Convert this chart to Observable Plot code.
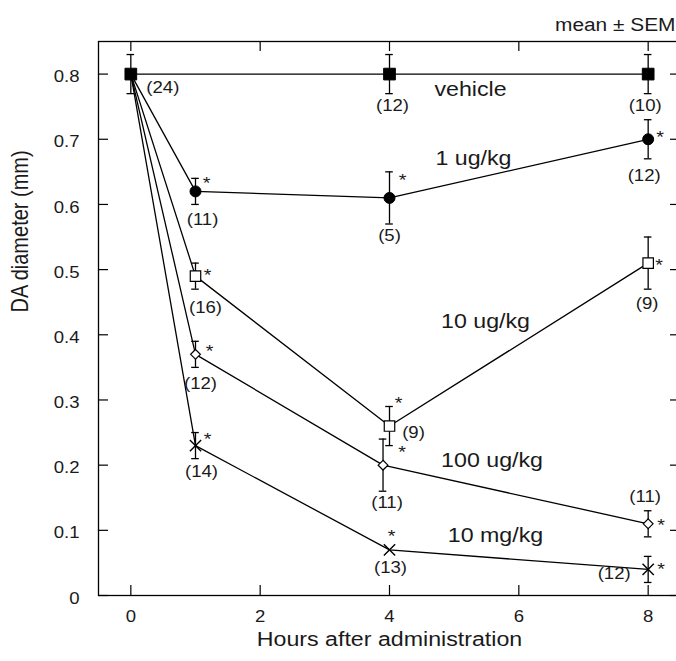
<!DOCTYPE html>
<html>
<head>
<meta charset="utf-8">
<script src="https://cdn.jsdelivr.net/npm/d3@7"></script>
<script src="https://cdn.jsdelivr.net/npm/@observablehq/plot@0.6"></script>
<style>
  html, body { margin: 0; padding: 0; background: white; }
  #wrap { width: 676px; height: 661px; overflow: hidden; }
</style>
</head>
<body>
<div id="wrap"></div>
<script>
// ---------- data ----------
const seriesNames = ["vehicle", "1 ug/kg", "10 ug/kg", "100 ug/kg", "10 mg/kg"];

const hoursVehicle = [0, 4, 8];
const meanVehicle  = [0.80, 0.80, 0.80];
const semVehicle   = [0.03, 0.03, 0.03];
const nVehicle     = [24, 12, 10];
const starVehicle  = [false, false, false];

const hours1ug = [0, 1, 4, 8];
const mean1ug  = [0.80, 0.62, 0.61, 0.70];
const sem1ug   = [null, 0.02, 0.04, 0.03];
const n1ug     = [null, 11, 5, 12];
const star1ug  = [false, true, true, true];

const hours10ug = [0, 1, 4, 8];
const mean10ug  = [0.80, 0.49, 0.26, 0.51];
const sem10ug   = [null, 0.02, 0.03, 0.04];
const n10ug     = [null, 16, 9, 9];
const star10ug  = [false, true, true, true];

const hours100ug = [0, 1, 3.9, 8];
const mean100ug  = [0.80, 0.37, 0.20, 0.11];
const sem100ug   = [null, 0.02, 0.04, 0.02];
const n100ug     = [null, 12, 11, 11];
const star100ug  = [false, true, true, true];

const hours10mg = [0, 1, 4, 8];
const mean10mg  = [0.80, 0.23, 0.07, 0.04];
const sem10mg   = [null, 0.02, null, 0.02];
const n10mg     = [null, 14, 13, 12];
const star10mg  = [false, true, true, true];

const xTicks = [0, 2, 4, 6, 8];
const yTicks = [0, 0.1, 0.2, 0.3, 0.4, 0.5, 0.6, 0.7, 0.8];
const xTitle = "Hours after administration";
const yTitle = "DA diameter (mm)";
const noteText = "mean \u00B1 SEM";

// ---------- table built from the arrays ----------
const seriesCols = [
  [hoursVehicle, meanVehicle, semVehicle, nVehicle, starVehicle],
  [hours1ug, mean1ug, sem1ug, n1ug, star1ug],
  [hours10ug, mean10ug, sem10ug, n10ug, star10ug],
  [hours100ug, mean100ug, sem100ug, n100ug, star100ug],
  [hours10mg, mean10mg, sem10mg, n10mg, star10mg]
];
const rows = [];
seriesCols.forEach(([h, m, s, n, st], si) => {
  h.forEach((hh, i) => rows.push({series: seriesNames[si], si, i, hour: hh, mean: m[i], sem: s[i], n: n[i], star: st[i]}));
});

// ---------- styles (kept apart from data) ----------
const FONT = "'Liberation Sans', Arial, Helvetica, sans-serif";
const INK = "#1a1a1a";
const markerStyle = [
  {symbol: "square",   r: 6.6, fill: "black", stroke: "black", strokeWidth: 1},
  {symbol: "circle",   r: 5.5, fill: "black", stroke: "black", strokeWidth: 1},
  {symbol: "square",   r: 5.9, fill: "white", stroke: "black", strokeWidth: 1.2},
  {symbol: "diamond2", r: 4.4, fill: "white", stroke: "black", strokeWidth: 1.2},
  {symbol: "times",    r: 5.2, fill: "none",  stroke: "black", strokeWidth: 1.4}
];
// pixel offsets of the (n) labels and stars from their point
const nOffsets = [
  [[32, 14], [3, 32], [-3, 32]],
  [null, [7, 28], [0, 38], [-4, 37]],
  [null, [10, 32], [24, 7], [-1, 41]],
  [null, [5, 30], [4, 38], [-3, -27]],
  [null, [6, 26], [1, 18], [-34, 4]]
];
const starOffsets = [
  [null, null, null],
  [null, [11, -9], [13, -18], [12, -3]],
  [null, [12, -2], [9, -23], [11, 1]],
  [null, [14, -4], [19, -14], [13, 1]],
  [null, [12, -7], [2, -14], [13, -1]]
];
// series name label: anchored on point index, with pixel offset
const nameAnchor = [1, 2, 2, 2, 2];
const nameOffsets = [[81, 16], [84, -39], [96, -104], [109, -5], [106, -14]];

const marks = [];

// frame
marks.push(Plot.frame({stroke: "black", strokeWidth: 1.3}));

// inward ticks on all four sides
marks.push(Plot.ruleX(xTicks, {x: d => d, y1: 0, y2: 0, insetTop: -10, stroke: "black", strokeWidth: 1.2}));
marks.push(Plot.ruleX(xTicks, {x: d => d, y1: 0.85, y2: 0.85, insetBottom: -10, stroke: "black", strokeWidth: 1.2}));
marks.push(Plot.ruleY(yTicks, {y: d => d, x1: -0.5, x2: -0.5, insetRight: -10, stroke: "black", strokeWidth: 1.2}));
marks.push(Plot.ruleY(yTicks, {y: d => d, x1: 8.5, x2: 8.5, insetLeft: -10, stroke: "black", strokeWidth: 1.2}));

// axes labels (tick text only)
marks.push(Plot.axisX({ticks: xTicks, tickSize: 0, tickPadding: 15, label: null, fontSize: 16, fill: INK}));
marks.push(Plot.axisY({ticks: yTicks, tickSize: 0, tickPadding: 19, dy: 3, label: null, fontSize: 16, fill: INK,
  tickFormat: d => d === 0 ? "0" : d3.format(".1f")(d)}));

// lines
marks.push(Plot.line(rows, {x: "hour", y: "mean", z: "series", stroke: "black", strokeWidth: 1.3}));

// error bars
const errRows = rows.filter(d => d.sem != null);
marks.push(Plot.ruleX(errRows, {x: "hour", y1: d => d.mean - d.sem, y2: d => d.mean + d.sem, stroke: "black", strokeWidth: 1.3}));
marks.push(Plot.ruleY(errRows, {y: d => d.mean + d.sem, x1: "hour", x2: "hour", insetLeft: -3.8, insetRight: -3.8, stroke: "black", strokeWidth: 1.3}));
marks.push(Plot.ruleY(errRows, {y: d => d.mean - d.sem, x1: "hour", x2: "hour", insetLeft: -3.8, insetRight: -3.8, stroke: "black", strokeWidth: 1.3}));

// markers
seriesNames.forEach((name, si) => {
  const st = markerStyle[si];
  marks.push(Plot.dot(rows.filter(d => d.si === si && d.n != null), {
    x: "hour", y: "mean", symbol: st.symbol, r: st.r, fill: st.fill, stroke: st.stroke, strokeWidth: st.strokeWidth
  }));
});

// n labels
rows.filter(d => d.n != null).forEach(d => {
  const [dx, dy] = nOffsets[d.si][d.i];
  marks.push(Plot.text([d], {x: "hour", y: "mean", text: r => `(${r.n})`, dx, dy, fontSize: 16, fill: INK}));
});

// significance stars
rows.filter(d => d.star).forEach(d => {
  const [dx, dy] = starOffsets[d.si][d.i];
  marks.push(Plot.text([d], {x: "hour", y: "mean", text: () => "*", dx, dy: dy + 1, fontSize: 17, fill: INK}));
});

// series names
seriesNames.forEach((name, si) => {
  const d = rows.filter(r => r.si === si)[nameAnchor[si]];
  const [dx, dy] = nameOffsets[si];
  marks.push(Plot.text([d], {x: "hour", y: "mean", text: () => name, dx, dy, fontSize: 20, fill: INK}));
});

// titles
marks.push(Plot.text([xTitle], {frameAnchor: "bottom", text: d => d, dy: 50, fontSize: 20, fill: INK}));
marks.push(Plot.text([yTitle], {frameAnchor: "left", text: d => d, dx: -78, dy: -6, rotate: -90, fontSize: 20, fill: INK}));
marks.push(Plot.text([noteText], {frameAnchor: "top-right", text: d => d, dx: -5, dy: -23, textAnchor: "end", fontSize: 18, fill: INK}));

const chart = Plot.plot({
  width: 680,
  height: 661,
  marginLeft: 98,
  marginRight: 0,
  marginTop: 41,
  marginBottom: 66,
  x: {domain: [-0.5, 8.5], label: null},
  y: {domain: [0, 0.85], label: null},
  style: {fontFamily: FONT, fontSize: "16px", color: "black", background: "white", maxWidth: "none"},
  marks
});
chart.style.maxWidth = "none";
document.getElementById("wrap").append(chart);

// the reference's lettering is slightly wide: stretch each text horizontally about its anchor
const S = 1.16;
chart.querySelectorAll("text").forEach(t => {
  const bb = t.getBBox();
  const tr = t.getAttribute("transform") || "";
  if (tr.includes("rotate")) {
    const cy = bb.y + bb.height / 2;
    t.setAttribute("transform", `${tr} translate(0 ${cy}) scale(1 ${S}) translate(0 ${-cy})`);
    return;
  }
  const anchor = getComputedStyle(t).textAnchor;
  const cx = anchor === "end" ? bb.x + bb.width : anchor === "middle" ? bb.x + bb.width / 2 : bb.x;
  t.setAttribute("transform", `${tr} translate(${cx} 0) scale(${S} 1) translate(${-cx} 0)`);
});
</script>
</body>
</html>
